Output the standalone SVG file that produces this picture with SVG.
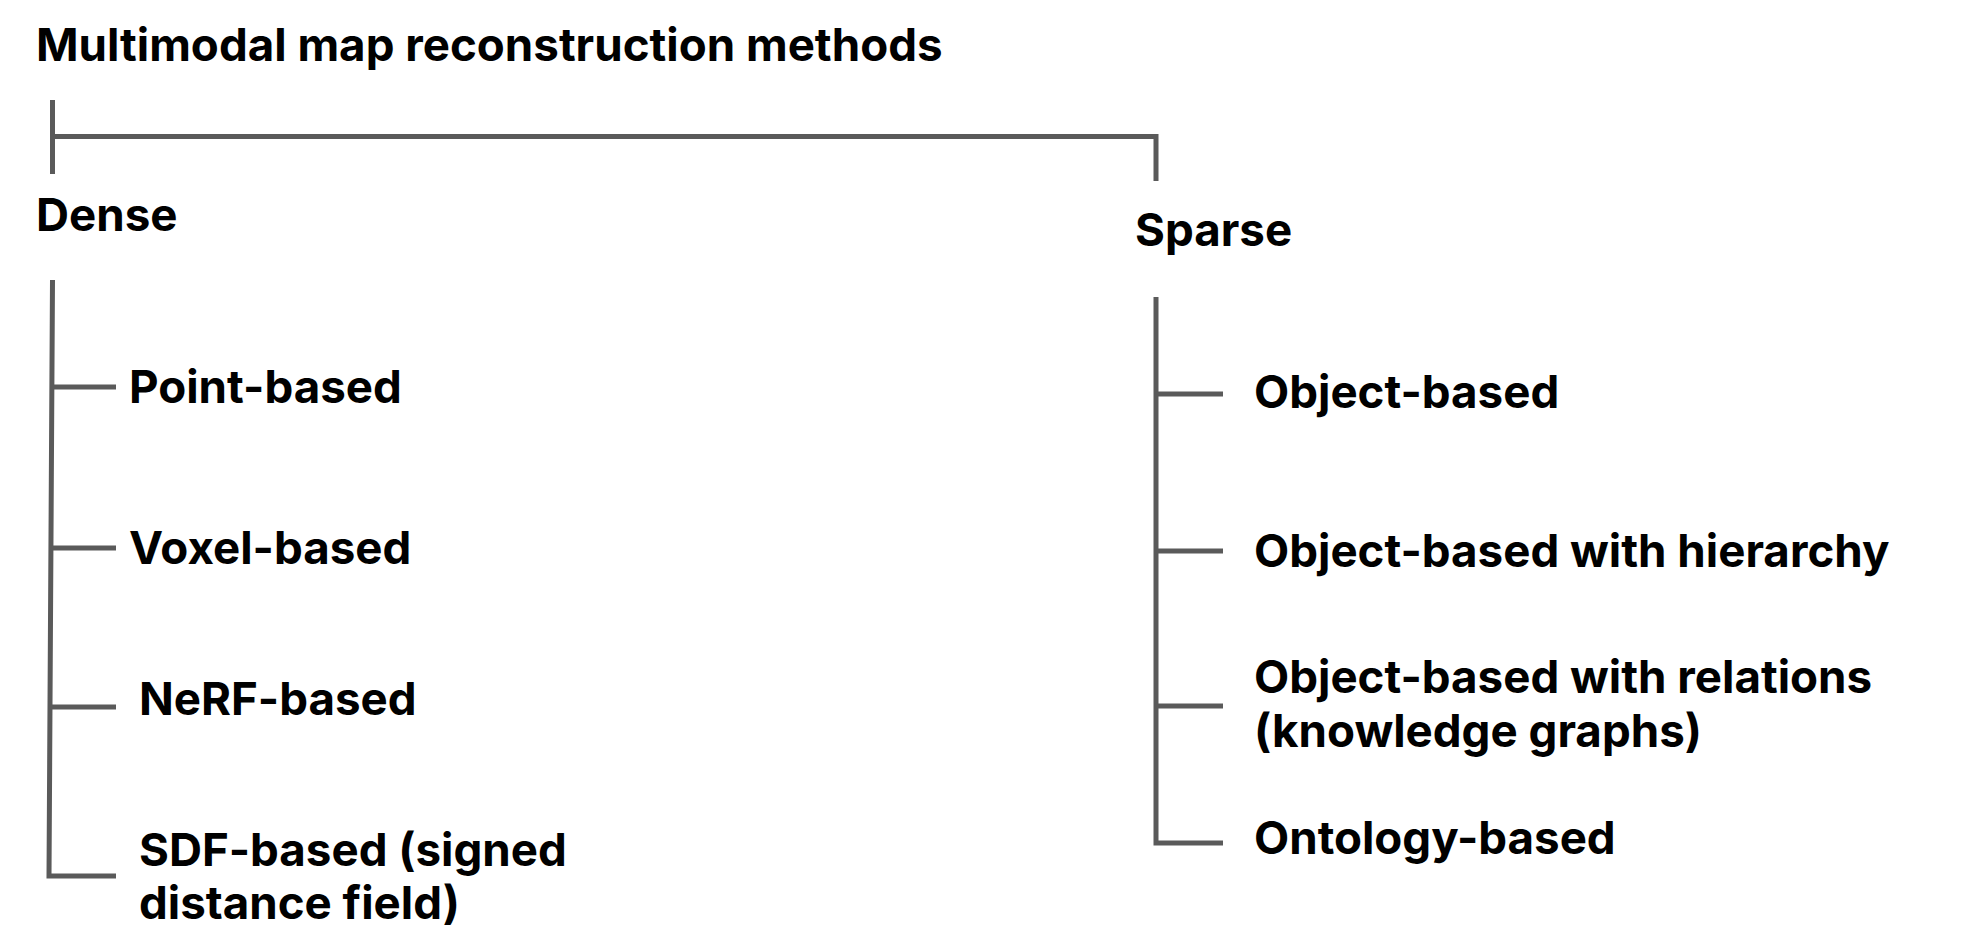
<svg xmlns="http://www.w3.org/2000/svg" width="1962" height="948" viewBox="0 0 1962 948">
<style>
.t{font-family:Inter,"Noto Sans","Liberation Sans",sans-serif;font-weight:700;font-size:45.7px;fill:#000}
.c{stroke:#5a5a5a;stroke-width:5;fill:none;stroke-linecap:butt;stroke-linejoin:miter}
</style>
<rect width="1962" height="948" fill="#fff"/>
<g id="connectors">
<path class="c" d="M52.5 100 V174"/>
<path class="c" d="M52.5 136.5 H1156 V181"/>
<path class="c" d="M52.5 280 L49 876 H116"/>
<path class="c" d="M52 387 H116"/>
<path class="c" d="M51.5 548 H116"/>
<path class="c" d="M50.5 707 H116"/>
<path class="c" d="M1156 297 V843 H1223"/>
<path class="c" d="M1156 394 H1223"/>
<path class="c" d="M1156 551 H1223"/>
<path class="c" d="M1156 706 H1223"/>
</g>
<g id="title"><text class="t" x="36" y="61">Multimodal map reconstruction methods</text></g>
<g id="dense"><text class="t" x="36" y="231">Dense</text></g>
<g id="sparse"><text class="t" x="1135" y="246">Sparse</text></g>
<g id="point"><text class="t" x="129" y="403">Point-based</text></g>
<g id="voxel"><text class="t" x="129" y="564">Voxel-based</text></g>
<g id="nerf"><text class="t" x="139" y="715">NeRF-based</text></g>
<g id="sdf"><text class="t" x="139" y="866">SDF-based (signed</text><text class="t" x="139" y="919">distance field)</text></g>
<g id="object"><text class="t" x="1254" y="408">Object-based</text></g>
<g id="hierarchy"><text class="t" x="1254" y="567">Object-based with hierarchy</text></g>
<g id="relations"><text class="t" x="1254" y="693">Object-based with relations</text><text class="t" x="1254" y="747">(knowledge graphs)</text></g>
<g id="ontology"><text class="t" x="1254" y="854">Ontology-based</text></g>
</svg>
